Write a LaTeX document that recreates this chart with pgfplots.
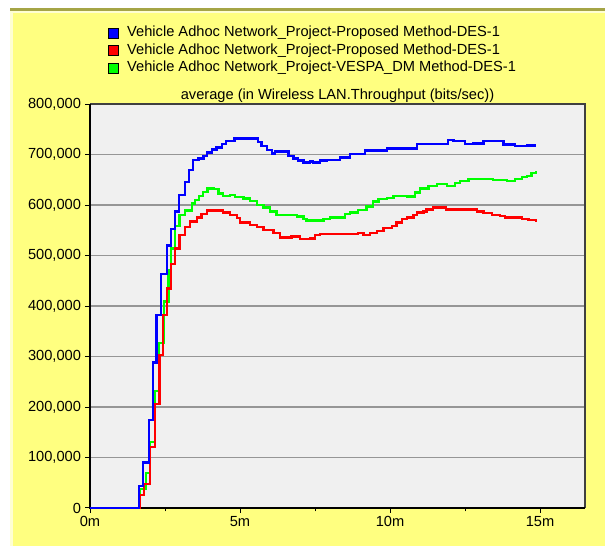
\documentclass[border=0pt]{standalone}
\usepackage{fontspec}
\setmainfont{Liberation Sans}
\usepackage{pgfplots}
\pgfplotsset{compat=1.18}
\definecolor{bgyellow}{RGB}{255,255,128}
\definecolor{lightyel}{RGB}{255,255,210}
\definecolor{olive1}{RGB}{165,165,70}
\definecolor{plotbg}{RGB}{240,240,240}
\definecolor{gridc}{RGB}{150,150,150}
\definecolor{sblue}{RGB}{0,0,255}
\definecolor{sred}{RGB}{255,0,0}
\definecolor{sgreen}{RGB}{0,255,0}
\begin{document}
\begin{tikzpicture}
\path[use as bounding box] (0,0) rectangle (605bp,546bp);
\fill[white] (0,0) rectangle (605bp,546bp);
\fill[lightyel] (10bp,0) rectangle (605bp,535bp);
\fill[bgyellow] (13bp,0) rectangle (605bp,533bp);
\fill[olive1] (10bp,535bp) rectangle (605bp,537.5bp);
\begin{axis}[
  at={(90bp,38bp)}, anchor=south west,
  scale only axis, width=495bp, height=404bp,
  xmin=0, xmax=16.5, ymin=0, ymax=800000,
  clip=false,
  axis background/.style={fill=plotbg},
  axis line style={draw=none},
  tick pos=left, tick align=outside,
  major tick length=5bp, minor tick length=3.5bp,
  every tick/.style={black, line width=1bp},
  xtick={0,5,10,15}, xticklabels={0m,5m,10m,15m},
  minor xtick={2.5,7.5,12.5},
  ytick={0,100000,200000,300000,400000,500000,600000,700000,800000},
  yticklabels={0,{100,000},{200,000},{300,000},{400,000},{500,000},{600,000},{700,000},{800,000}},
  scaled y ticks=false,
  ymajorgrids, grid style={gridc, line width=1.3bp},
  tick label style={font=\fontsize{14.7}{16}\selectfont, black},
  /pgf/number format/assume math mode=true,
  yticklabel style={xshift=-0.5bp},
  title={average (in Wireless LAN.Throughput (bits/sec))},
  title style={font=\fontsize{14.7}{16}\selectfont, at={(0.5,1)}, anchor=south, yshift=-4.5bp, inner sep=0pt},
  legend image code/.code={\filldraw[#1, draw=black, line width=0.7bp] (0bp,-5bp) rectangle (10bp,5bp);},
  legend style={draw=none, fill=none, at={(0.035,1.1955)}, anchor=north west,
    font=\fontsize{14.7}{16}\selectfont, row sep=1.4bp, column sep=7.5bp, inner sep=0pt,
    nodes={inner sep=1.5bp, text height=10bp, text depth=3bp}},
  legend cell align=left,
]
\addlegendimage{fill=sblue}
\addlegendentry{Vehicle Adhoc Network\_Project-Proposed Method-DES-1}
\addlegendimage{fill=sred}
\addlegendentry{Vehicle Adhoc Network\_Project-Proposed Method-DES-1}
\addlegendimage{fill=sgreen}
\addlegendentry{Vehicle Adhoc Network\_Project-VESPA\_DM Method-DES-1}

\draw[black!75, line width=1.5bp] (rel axis cs:0,1) -- (rel axis cs:1,1) -- (rel axis cs:1,0);
\draw[black, line width=2bp] (rel axis cs:0,1) -- (rel axis cs:0,0) -- (rel axis cs:1,0);

\addplot[forget plot, const plot, sgreen, line width=2.4bp] coordinates {
(0,0) (1.65,38000) (1.87,69000) (2.0,131000) (2.17,232000) (2.29,327000) (2.47,409000) (2.62,470000) (2.69,514000) (2.83,558000) (2.98,580000) (3.17,589000) (3.39,603000) (3.5,610000) (3.64,618000) (3.76,626000) (3.91,633000) (4.11,632000) (4.28,623000) (4.44,618000) (4.67,620000) (4.83,616000) (5.11,613000) (5.33,608000) (5.56,600000) (5.78,595000) (6.0,587000) (6.22,580000) (6.89,577000) (7.11,572000) (7.22,569000) (7.61,569000) (7.78,572000) (8.0,575000) (8.33,575000) (8.5,582000) (8.67,585000) (8.94,590000) (9.22,597000) (9.44,607000) (9.61,612000) (9.89,614000) (10.11,618000) (10.56,617000) (10.83,625000) (11.0,633000) (11.28,638000) (11.56,641000) (11.89,638000) (12.17,643000) (12.33,648000) (12.61,651000) (13.28,652000) (13.44,650000) (13.72,650000) (13.89,648000) (14.06,648000) (14.17,652000) (14.39,655000) (14.56,658000) (14.72,663000) (14.87,667000)
};
\addplot[forget plot, const plot, sred, line width=2.4bp] coordinates {
(0,0) (1.67,26000) (1.8,48000) (2.0,121000) (2.16,206000) (2.31,303000) (2.44,382000) (2.56,435000) (2.69,483000) (2.83,514000) (2.98,541000) (3.17,557000) (3.33,567000) (3.56,575000) (3.72,582000) (3.89,589000) (4.22,589000) (4.44,585000) (4.67,580000) (4.89,574000) (5.0,565000) (5.33,560000) (5.56,556000) (5.78,550000) (6.11,544000) (6.33,536000) (6.72,538000) (7.0,533000) (7.33,534000) (7.5,541000) (7.67,543000) (8.83,543000) (8.94,545000) (9.11,541000) (9.33,545000) (9.56,549000) (9.78,554000) (10.06,558000) (10.22,565000) (10.39,572000) (10.56,575000) (10.78,580000) (10.89,585000) (11.11,587000) (11.22,591000) (11.44,595000) (11.61,595000) (11.87,591000) (12.72,591000) (12.89,587000) (13.11,584000) (13.39,580000) (13.67,578000) (13.83,575000) (14.22,575000) (14.39,572000) (14.61,570000) (14.87,567000)
};
\addplot[forget plot, const plot, sblue, line width=2.4bp] coordinates {
(0,0) (1.63,44000) (1.76,90000) (1.96,174000) (2.09,288000) (2.22,382000) (2.36,463000) (2.56,520000) (2.69,552000) (2.84,587000) (2.96,620000) (3.16,645000) (3.29,669000) (3.44,689000) (3.61,692000) (3.78,697000) (3.89,704000) (4.06,710000) (4.22,714000) (4.39,721000) (4.53,727000) (4.81,732000) (5.39,732000) (5.6,725000) (5.72,717000) (5.89,709000) (6.06,702000) (6.17,706000) (6.44,706000) (6.61,697000) (6.78,692000) (6.94,688000) (7.11,684000) (7.33,686000) (7.44,684000) (7.67,688000) (7.89,689000) (8.33,694000) (8.67,701000) (9.17,708000) (9.67,708000) (9.89,712000) (10.56,712000) (10.89,721000) (11.56,721000) (11.94,729000) (12.11,727000) (12.5,721000) (12.78,722000) (13.11,727000) (13.44,727000) (13.78,720000) (14.17,717000) (14.56,718000) (14.87,718000)
};
\end{axis}
\end{tikzpicture}
\end{document}
